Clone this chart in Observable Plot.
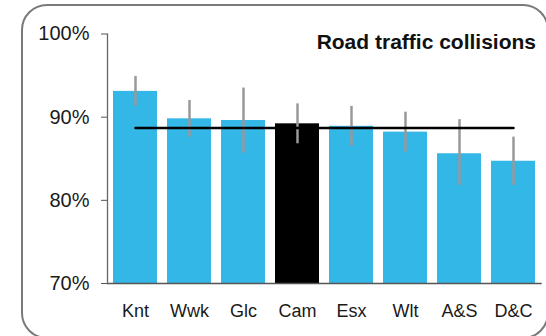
<!DOCTYPE html>
<html>
<head>
<meta charset="utf-8">
<script src="https://cdn.jsdelivr.net/npm/d3@7"></script>
<script src="https://cdn.jsdelivr.net/npm/@observablehq/plot@0.6"></script>
<style>
  html, body { margin: 0; padding: 0; background: #fff; }
  #wrap { position: relative; width: 546px; height: 336px; overflow: hidden; font-family: "Liberation Sans", Arial, sans-serif; }
  #frame { position: absolute; left: 21px; top: 3.5px; width: 528px; height: 335px; border: 2.5px solid #7a7a7a; border-radius: 26px; box-sizing: border-box; }
  #title { position: absolute; right: 10px; top: 31px; font-size: 21px; line-height: 21px; font-weight: bold; color: #111; white-space: nowrap; }
  #chart { position: absolute; left: 0; top: 0; }
</style>
</head>
<body>
<div id="wrap">
  <div id="frame"></div>
  <div id="chart"></div>
  <div id="title">Road traffic collisions</div>
</div>
<script>
const categories = ["Knt", "Wwk", "Glc", "Cam", "Esx", "Wlt", "A&S", "D&C"];
const values = [93.1, 89.8, 89.6, 89.2, 88.9, 88.2, 85.6, 84.7];
const lower = [91.3, 87.6, 85.7, 86.8, 86.5, 85.8, 81.8, 81.8];
const upper = [94.9, 92.0, 93.5, 91.6, 91.3, 90.6, 89.7, 87.6];
const highlight = "Cam";
const average = 88.7;
const yTicks = [70, 80, 90, 100];

const data = categories.map((c, i) => ({cat: c, value: values[i], lo: lower[i], hi: upper[i]}));
const avgLine = categories.map(c => ({cat: c, value: average}));

const chart = Plot.plot({
  width: 546,
  height: 336,
  marginLeft: 107,
  marginRight: 4.3,
  marginTop: 33.5,
  marginBottom: 53,
  style: {fontFamily: "Liberation Sans, Arial, sans-serif", fontSize: "18px", color: "#1a1a1a", background: "transparent"},
  x: {domain: categories, paddingInner: 0.19, paddingOuter: 0.086, label: null},
  y: {domain: [70, 100], label: null},
  marks: [
    Plot.barY(data, {x: "cat", y1: 70, y2: "value", fill: d => d.cat === highlight ? "#000000" : "#33b7e7"}),
    Plot.ruleX(data, {x: "cat", y1: "lo", y2: "hi", stroke: "#999999", strokeWidth: 2.5}),
    Plot.line(avgLine, {x: "cat", y: "value", stroke: "#000", strokeWidth: 2.5}),
    Plot.ruleY([70], {stroke: "#555", strokeWidth: 1.3}),
    Plot.frame({anchor: "left", stroke: "#666", strokeWidth: 1.3}),
    Plot.axisY({ticks: yTicks, tickFormat: d => d + "%", tickSize: 6, tickPadding: 12, stroke: "#555", fontSize: 20}),
    Plot.axisX({tickSize: 0, tickPadding: 21, fontSize: 18})
  ]
});
document.getElementById("chart").appendChild(chart);
</script>
</body>
</html>
